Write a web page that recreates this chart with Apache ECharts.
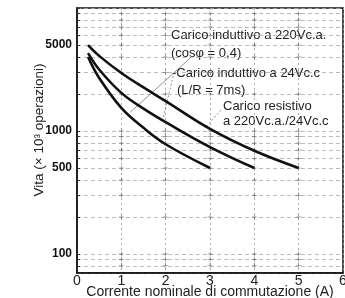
<!DOCTYPE html>
<html>
<head>
<meta charset="utf-8">
<script src="https://cdn.jsdelivr.net/npm/echarts@6/dist/echarts.min.js"></script>
<style>
  html, body { margin: 0; padding: 0; background: #fff; }
  #chart { width: 345px; height: 298px; }
</style>
</head>
<body>
<div id="chart"></div>
<script>
// curve data (x = A, y = x10^3 operations)
var resistX = [0.25, 0.5, 1, 1.5, 2, 3, 4, 5];
var resistY = [5000, 4080, 2960, 2260, 1750, 1040, 690, 500];
var ind24X = [0.25, 0.5, 1, 1.5, 2, 3, 4];
var ind24Y = [4300, 3160, 2040, 1520, 1180, 740, 500];
var ind220X = [0.25, 0.5, 1, 1.5, 2, 3];
var ind220Y = [4000, 2700, 1540, 1060, 780, 500];

var yLabels = [100, 500, 1000, 5000];
var yGrid = [70, 80, 90, 100, 200, 300, 400, 500, 600, 700, 800, 900,
  1000, 2000, 3000, 4000, 5000, 6000, 7000, 8000, 9000, 10000];
var crossX = [1, 2, 3, 4, 5];

// leader lines from the notes to the curves, in data units
var lead220 = [[2.55, 3900], [1.2, 1420]];
var lead24 = [[2.17, 2800], [1.92, 1180]];
var leadRes = [[3.25, 1480], [2.93, 1100]];

function pairs(xs, ys) {
  var out = [];
  for (var i = 0; i < xs.length; i++) out.push([xs[i], ys[i]]);
  return out;
}

var crosses = [];
for (var i = 0; i < crossX.length; i++) {
  for (var j = 0; j < yGrid.length; j++) {
    if (yGrid[j] > 70 && yGrid[j] < 10000) crosses.push([crossX[i], yGrid[j]]);
  }
}

var font = 'Liberation Sans, Arial, sans-serif';
var chart = echarts.init(document.getElementById('chart'), null, { renderer: 'canvas' });

function curve(data) {
  return {
    type: 'line', data: data, smooth: 0.4, showSymbol: false, silent: true,
    lineStyle: { color: '#111', width: 2.6 }, z: 5
  };
}
function leader(data, dashed) {
  return {
    type: 'line', data: data, showSymbol: false, silent: true,
    lineStyle: { color: '#777', width: 0.8, type: dashed ? [2, 2] : 'solid' }, z: 4
  };
}

chart.setOption({
  animation: false,
  grid: {
    left: 77, right: 2, top: 8, bottom: 25, outerBoundsMode: 'none', containLabel: false,
    show: true, borderColor: '#111', borderWidth: 1.5
  },
  xAxis: {
    type: 'value', min: 0, max: 6, interval: 1,
    axisLine: { lineStyle: { color: '#111', width: 1.5 } },
    axisTick: { show: false },
    axisLabel: { color: '#222', fontFamily: font, fontSize: 14, margin: 1, lineHeight: 14 },
    splitLine: { lineStyle: { color: '#999', width: 0.8, type: [2, 3] } },
    name: 'Corrente nominale di commutazione (A)',
    nameLocation: 'middle', nameGap: 12, nameMoveOverlap: false,
    nameTextStyle: { color: '#222', fontFamily: font, fontSize: 14, lineHeight: 14 }
  },
  yAxis: {
    type: 'log', logBase: 10, min: 70, max: 10000,
    axisLine: { lineStyle: { color: '#111', width: 1.5 } },
    axisTick: { show: true, inside: true, length: 3, customValues: yGrid, lineStyle: { color: '#333' } },
    axisLabel: {
      color: '#111', fontFamily: font, fontSize: 12, fontWeight: 'bold', margin: 5,
      customValues: yLabels, formatter: function (v) { return String(Math.round(v)); }
    },
    splitLine: { show: true, lineStyle: { color: '#aaa', width: 0.8, type: [4, 3] } }
  },
  graphic: [
    { type: 'text', x: 39, y: 130, rotation: Math.PI / 2,
      style: { text: 'Vita (\u00d7 10\u00b3 operazioni)', font: '13.5px ' + font, fill: '#222',
        align: 'center', verticalAlign: 'middle' } },
    { type: 'text', x: 171, y: 35, style: { text: 'Carico induttivo a 220Vc.a.', font: '13px ' + font, fill: '#222', verticalAlign: 'middle' } },
    { type: 'text', x: 171, y: 53, style: { text: '(cos\u03c6 = 0,4)', font: '13px ' + font, fill: '#222', verticalAlign: 'middle' } },
    { type: 'text', x: 172, y: 73, style: { text: '-Carico induttivo a 24Vc.c', font: '13px ' + font, fill: '#222', verticalAlign: 'middle' } },
    { type: 'text', x: 177, y: 90, style: { text: '(L/R = 7ms)', font: '13px ' + font, fill: '#222', verticalAlign: 'middle' } },
    { type: 'text', x: 223, y: 106, style: { text: 'Carico resistivo', font: '13px ' + font, fill: '#222', verticalAlign: 'middle' } },
    { type: 'text', x: 223, y: 121, style: { text: 'a 220Vc.a./24Vc.c', font: '13px ' + font, fill: '#222', verticalAlign: 'middle' } }
  ],
  series: [
    {
      type: 'scatter', data: crosses, silent: true, symbolSize: 5,
      symbol: 'path://M0,4.5h10v1h-10zM4.5,0h1v10h-1z',
      itemStyle: { color: '#444' }, z: 3
    },
    curve(pairs(resistX, resistY)),
    curve(pairs(ind24X, ind24Y)),
    curve(pairs(ind220X, ind220Y)),
    leader(lead220, false),
    leader(lead24, true),
    leader(leadRes, true)
  ]
});
</script>
</body>
</html>
